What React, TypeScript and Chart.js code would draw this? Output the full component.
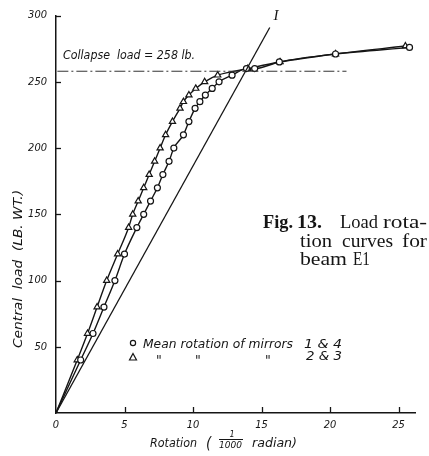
import React, { useEffect, useRef } from 'react';
import { Chart, registerables } from 'chart.js';
Chart.register(...registerables);

// Mean rotation of mirrors 1 & 4 (circles)
const CIRCLE_ROT = [0, 1.8, 2.7, 3.5, 4.3, 5.0, 5.9, 6.4, 6.9, 7.4, 7.8, 8.25, 8.6, 9.3, 9.7, 10.15, 10.5, 10.9, 11.4, 11.9, 12.85, 13.9, 14.5, 16.3, 20.4, 25.8];
const CIRCLE_LOAD = [0, 40, 60, 80, 100, 120, 140, 150, 160, 170, 180, 190, 200, 210, 220, 230, 235, 240, 245, 250, 255, 260, 260, 265, 271, 276];
// Mean rotation of mirrors 2 & 3 (triangles)
const TRI_ROT = [0, 1.55, 2.3, 3.0, 3.7, 4.5, 5.3, 5.6, 6.0, 6.4, 6.8, 7.2, 7.6, 8.0, 8.5, 9.05, 9.3, 9.7, 10.2, 10.85, 11.8, 14.0, 16.35, 20.4, 25.5];
const TRI_LOAD = [0, 40, 60, 80, 100, 120, 140, 150, 160, 170, 180, 190, 200, 210, 220, 230, 235, 240, 245, 250, 255, 260, 265, 271, 277];
// Straight line I
const LINE_I_ROT = [0, 15.6];
const LINE_I_LOAD = [0, 291];
// Collapse load
const COLLAPSE_LOAD = 258;
const COLLAPSE_ROT = [0.1, 21.2];
// Ticks
const X_TICKS = [0, 5, 10, 15, 20, 25];
const Y_TICKS = [50, 100, 150, 200, 250, 300];

const INK = '#151515';
const SANS = '"DejaVu Sans Condensed", "DejaVu Sans", sans-serif';
const SERIF = '"Liberation Serif", "DejaVu Serif", serif';

function fitText(ctx: CanvasRenderingContext2D, text: string, x: number, y: number, w: number, font: string) {
  ctx.save();
  ctx.font = font;
  const m = ctx.measureText(text).width || 1;
  ctx.translate(x, y);
  ctx.scale(w / m, 1);
  ctx.textAlign = 'left';
  ctx.fillText(text, 0, 0);
  ctx.restore();
}

export default function App() {
  const ref = useRef<HTMLCanvasElement>(null);
  useEffect(() => {
    const pts = (xs: number[], ys: number[]) => xs.map((x, i) => ({ x, y: ys[i] }));
    const overlay = {
      id: 'overlay',
      afterDraw(chart: any) {
        const ctx: CanvasRenderingContext2D = chart.ctx;
        const xs = chart.scales.x;
        const ys = chart.scales.y;
        const left = chart.chartArea.left;
        const bottom = chart.chartArea.bottom;
        ctx.save();
        ctx.strokeStyle = INK;
        ctx.fillStyle = INK;
        ctx.lineWidth = 1.3;
        // inward ticks
        Y_TICKS.forEach((v) => {
          const py = Math.round(ys.getPixelForValue(v)) + 0.5;
          ctx.beginPath();
          ctx.moveTo(left, py);
          ctx.lineTo(left + 5, py);
          ctx.stroke();
        });
        X_TICKS.filter((v) => v > 0).forEach((v) => {
          const px = Math.round(xs.getPixelForValue(v)) + 0.5;
          ctx.beginPath();
          ctx.moveTo(px, bottom);
          ctx.lineTo(px, bottom - 6);
          ctx.stroke();
        });
        ctx.textBaseline = 'alphabetic';
        // collapse load text
        fitText(ctx, 'Collapse  load = 258 lb.', 63, 59, 132, `italic 13px ${SANS}`);
        // label I
        ctx.font = `italic 15px ${SERIF}`;
        ctx.textAlign = 'center';
        ctx.fillText('I', 276, 20);
        // y title
        ctx.save();
        ctx.translate(22, 348);
        ctx.rotate(-Math.PI / 2);
        fitText(ctx, 'Central  load  (LB. WT.)', 0, 0, 158, `italic 13px ${SANS}`);
        ctx.restore();
        // x title
        fitText(ctx, 'Rotation', 150, 447, 47, `italic 13px ${SANS}`);
        ctx.font = `italic 15px ${SANS}`;
        ctx.textAlign = 'left';
        ctx.fillText('(', 206, 448);
        ctx.font = `italic 9px ${SANS}`;
        ctx.textAlign = 'center';
        ctx.fillText('1', 232, 437);
        fitText(ctx, '1000', 219, 448, 23, `italic 9px ${SANS}`);
        ctx.lineWidth = 1;
        ctx.beginPath();
        ctx.moveTo(219, 439.5);
        ctx.lineTo(243, 439.5);
        ctx.stroke();
        fitText(ctx, 'radian)', 252, 447, 45, `italic 13px ${SANS}`);
        // legend
        ctx.lineWidth = 1.2;
        ctx.beginPath();
        ctx.arc(133, 343, 2.6, 0, Math.PI * 2);
        ctx.stroke();
        ctx.beginPath();
        ctx.moveTo(133, 353.5);
        ctx.lineTo(136.5, 360);
        ctx.lineTo(129.5, 360);
        ctx.closePath();
        ctx.stroke();
        fitText(ctx, 'Mean rotation of mirrors', 143, 348, 150, `italic 13px ${SANS}`);
        fitText(ctx, '1 & 4', 304, 348, 38, `italic 13px ${SANS}`);
        ctx.font = `italic 14px ${SANS}`;
        ctx.textAlign = 'center';
        ctx.fillText('"', 159, 365);
        ctx.fillText('"', 198, 365);
        ctx.fillText('"', 268, 365);
        fitText(ctx, '2 & 3', 306, 360, 36, `italic 13px ${SANS}`);
        // caption
        ctx.textAlign = 'left';
        fitText(ctx, 'Fig.', 263, 228, 30, `bold 19px ${SERIF}`);
        fitText(ctx, '13.', 297, 228, 25, `bold 19px ${SERIF}`);
        fitText(ctx, 'Load', 340, 228, 38, `19px ${SERIF}`);
        fitText(ctx, 'rota-', 383, 228, 44, `19px ${SERIF}`);
        fitText(ctx, 'tion', 300, 246.5, 32, `19px ${SERIF}`);
        fitText(ctx, 'curves', 342, 246.5, 51, `19px ${SERIF}`);
        fitText(ctx, 'for', 402, 246.5, 25, `19px ${SERIF}`);
        fitText(ctx, 'beam', 300, 265, 47, `19px ${SERIF}`);
        fitText(ctx, 'E1', 353, 265, 17, `19px ${SERIF}`);
        ctx.restore();
      },
    };
    const chart = new Chart(ref.current as HTMLCanvasElement, {
      type: 'line',
      data: {
        datasets: [
          {
            label: 'Collapse load',
            data: COLLAPSE_ROT.map((x) => ({ x, y: COLLAPSE_LOAD })),
            borderColor: '#333',
            borderWidth: 1,
            borderDash: [11, 3, 2, 3],
            pointRadius: 0,
          },
          {
            label: 'I',
            data: pts(LINE_I_ROT, LINE_I_LOAD),
            borderColor: INK,
            borderWidth: 1.3,
            pointRadius: 0,
          },
          {
            label: 'Mirrors 1 & 4',
            data: pts(CIRCLE_ROT, CIRCLE_LOAD),
            borderColor: INK,
            borderWidth: 1.4,
            cubicInterpolationMode: 'monotone',
            pointStyle: 'circle',
            pointRadius: (ctx: any) => (ctx.dataIndex === 0 ? 0 : 3),
            pointBorderWidth: 1.2,
            pointBorderColor: INK,
            pointBackgroundColor: '#fff',
          },
          {
            label: 'Mirrors 2 & 3',
            data: pts(TRI_ROT, TRI_LOAD),
            borderColor: INK,
            borderWidth: 1.4,
            cubicInterpolationMode: 'monotone',
            pointStyle: 'triangle',
            pointRadius: (ctx: any) => (ctx.dataIndex === 0 ? 0 : 3.6),
            pointBorderWidth: 1.2,
            pointBorderColor: INK,
            pointBackgroundColor: '#fff',
          },
        ],
      },
      options: {
        animation: false,
        responsive: false,
        devicePixelRatio: 1,
        layout: { padding: { top: 9, right: 14, left: 0, bottom: 0 } },
        plugins: { legend: { display: false }, tooltip: { enabled: false }, title: { display: false } },
        scales: {
          x: {
            type: 'linear',
            min: 0,
            max: 26.2,
            afterBuildTicks: (s: any) => {
              s.ticks = X_TICKS.map((v) => ({ value: v }));
            },
            afterFit: (s: any) => {
              s.height = 43;
            },
            grid: { display: false, drawTicks: false },
            border: { display: true, color: INK, width: 1.5 },
            ticks: {
              color: INK,
              padding: 6,
              font: { family: SANS, size: 11, style: 'italic' },
              callback: (v: any) => String(v),
            },
          },
          y: {
            type: 'linear',
            min: 0,
            max: 300,
            afterBuildTicks: (s: any) => {
              s.ticks = Y_TICKS.map((v) => ({ value: v }));
            },
            afterFit: (s: any) => {
              s.width = 56;
            },
            grid: { display: false, drawTicks: false },
            border: { display: true, color: INK, width: 1.5 },
            ticks: {
              color: INK,
              padding: 9,
              font: { family: SANS, size: 11, style: 'italic' },
              callback: (v: any) => String(v),
            },
          },
        },
      } as any,
      plugins: [overlay],
    });
    return () => chart.destroy();
  }, []);
  return (
    <div style={{ position: 'absolute', left: 0, top: 0, width: 429, height: 456, background: '#fff' }}>
      <canvas ref={ref} width={429} height={456} style={{ display: 'block' }} />
    </div>
  );
}
